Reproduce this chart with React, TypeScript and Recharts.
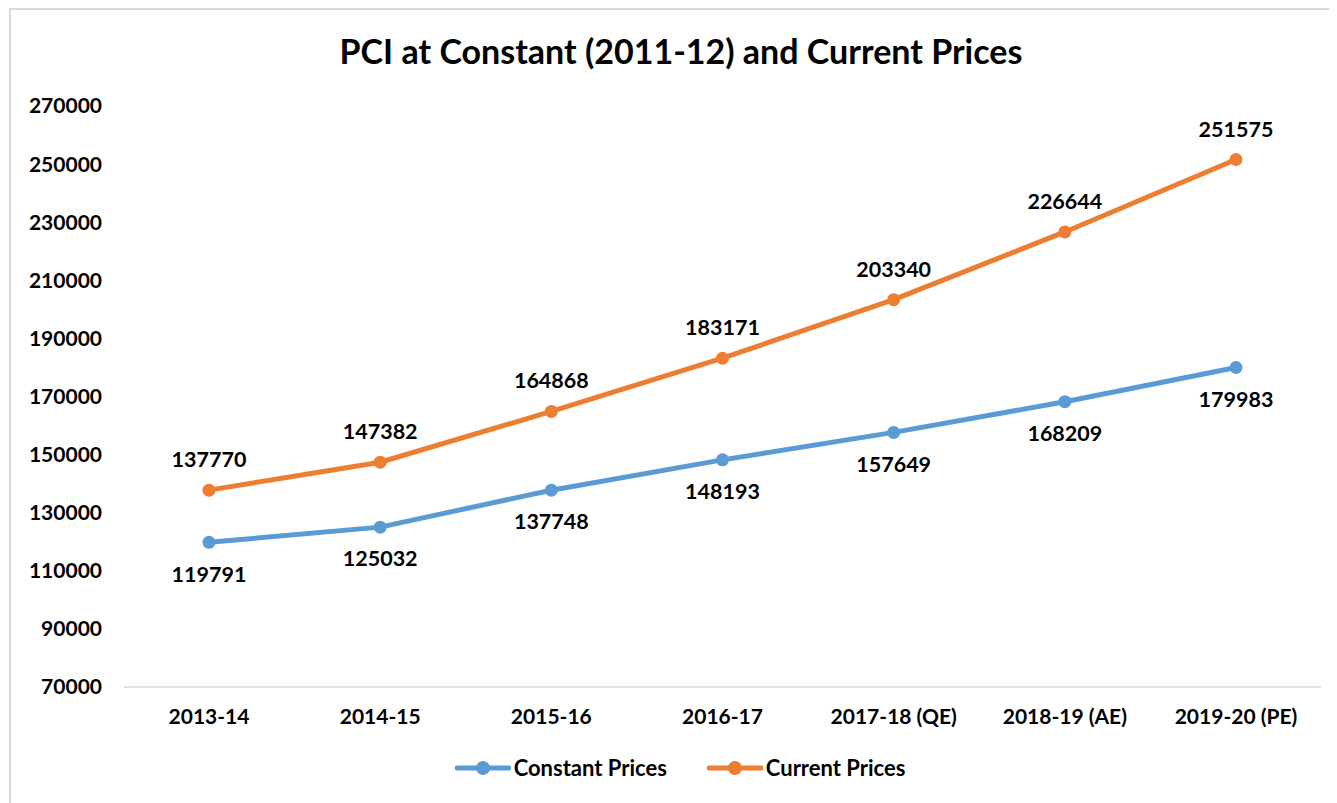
import { LineChart, Line, XAxis, YAxis, Legend, LabelList } from "recharts";

const years = ["2013-14", "2014-15", "2015-16", "2016-17", "2017-18 (QE)", "2018-19 (AE)", "2019-20 (PE)"];
const constantPrices = [119791, 125032, 137748, 148193, 157649, 168209, 179983];
const currentPrices = [137770, 147382, 164868, 183171, 203340, 226644, 251575];
const yTicks = [70000, 90000, 110000, 130000, 150000, 170000, 190000, 210000, 230000, 250000, 270000];

const BLUE = "#5B9BD5";
const ORANGE = "#ED7D31";
const FONT = "Lato, 'Open Sans', sans-serif";

const series = [
  { key: "constant", name: "Constant Prices", color: BLUE, labelPos: "bottom" as const },
  { key: "current", name: "Current Prices", color: ORANGE, labelPos: "top" as const },
];

const data = years.map((y, i) => ({
  year: y,
  constant: constantPrices[i],
  current: currentPrices[i],
}));

function LegendContent() {
  return (
    <div
      style={{
        display: "flex",
        justifyContent: "center",
        gap: 40,
        paddingLeft: 28,
        fontFamily: FONT,
        fontWeight: 700,
        fontSize: 22,
      }}
    >
      {series.map((s) => (
        <div key={s.key} style={{ display: "flex", alignItems: "center" }}>
          <svg width={56} height={20} style={{ marginRight: 3 }}>
            <line x1={2} y1={10} x2={54} y2={10} stroke={s.color} strokeWidth={5} strokeLinecap="round" />
            <circle cx={28} cy={10} r={7} fill={s.color} />
          </svg>
          <span style={{ color: "#000" }}>{s.name}</span>
        </div>
      ))}
    </div>
  );
}

export default function App() {
  return (
    <div
      style={{
        position: "relative",
        width: 1328,
        height: 794,
        marginLeft: 1,
        borderLeft: "2px solid #d9d9d9",
        borderTop: "2px solid #d9d9d9",
        background: "#fff",
      }}
    >
      <div
        style={{
          position: "absolute",
          top: 20,
          left: 0,
          width: 1340,
          textAlign: "center",
          fontFamily: FONT,
          fontWeight: 700,
          fontSize: 34,
          color: "#000",
        }}
      >
        PCI at Constant (2011-12) and Current Prices
      </div>
      <LineChart width={1326} height={792} data={data} margin={{ top: 96, right: 16, bottom: 18, left: 0 }}>
        <XAxis
          dataKey="year"
          axisLine={{ stroke: "#d9d9d9", strokeWidth: 1.5 }}
          tickLine={false}
          tickSize={0}
          tickMargin={22}
          height={67}
          interval={0}
          padding={{ left: 85, right: 85 }}
          tick={{ fill: "#000", fontFamily: FONT, fontWeight: 700, fontSize: 21 }}
        />
        <YAxis
          domain={[70000, 270000]}
          ticks={yTicks}
          axisLine={false}
          tickLine={false}
          tickSize={0}
          tickMargin={22}
          width={113}
          interval={0}
          tick={{ fill: "#000", fontFamily: FONT, fontWeight: 700, fontSize: 21 }}
        />
        <Legend verticalAlign="bottom" height={30} content={<LegendContent />} />
        {series.map((s) => (
          <Line
            key={s.key}
            type="linear"
            dataKey={s.key}
            name={s.name}
            stroke={s.color}
            strokeWidth={5}
            dot={{ r: 6.5, fill: s.color, stroke: s.color, strokeWidth: 0 }}
            isAnimationActive={false}
          >
            <LabelList
              dataKey={s.key}
              position={s.labelPos}
              offset={s.labelPos === "top" ? 23 : 24}
              style={{ fill: "#000", fontFamily: FONT, fontWeight: 700, fontSize: 21.5 }}
            />
          </Line>
        ))}
      </LineChart>
    </div>
  );
}
